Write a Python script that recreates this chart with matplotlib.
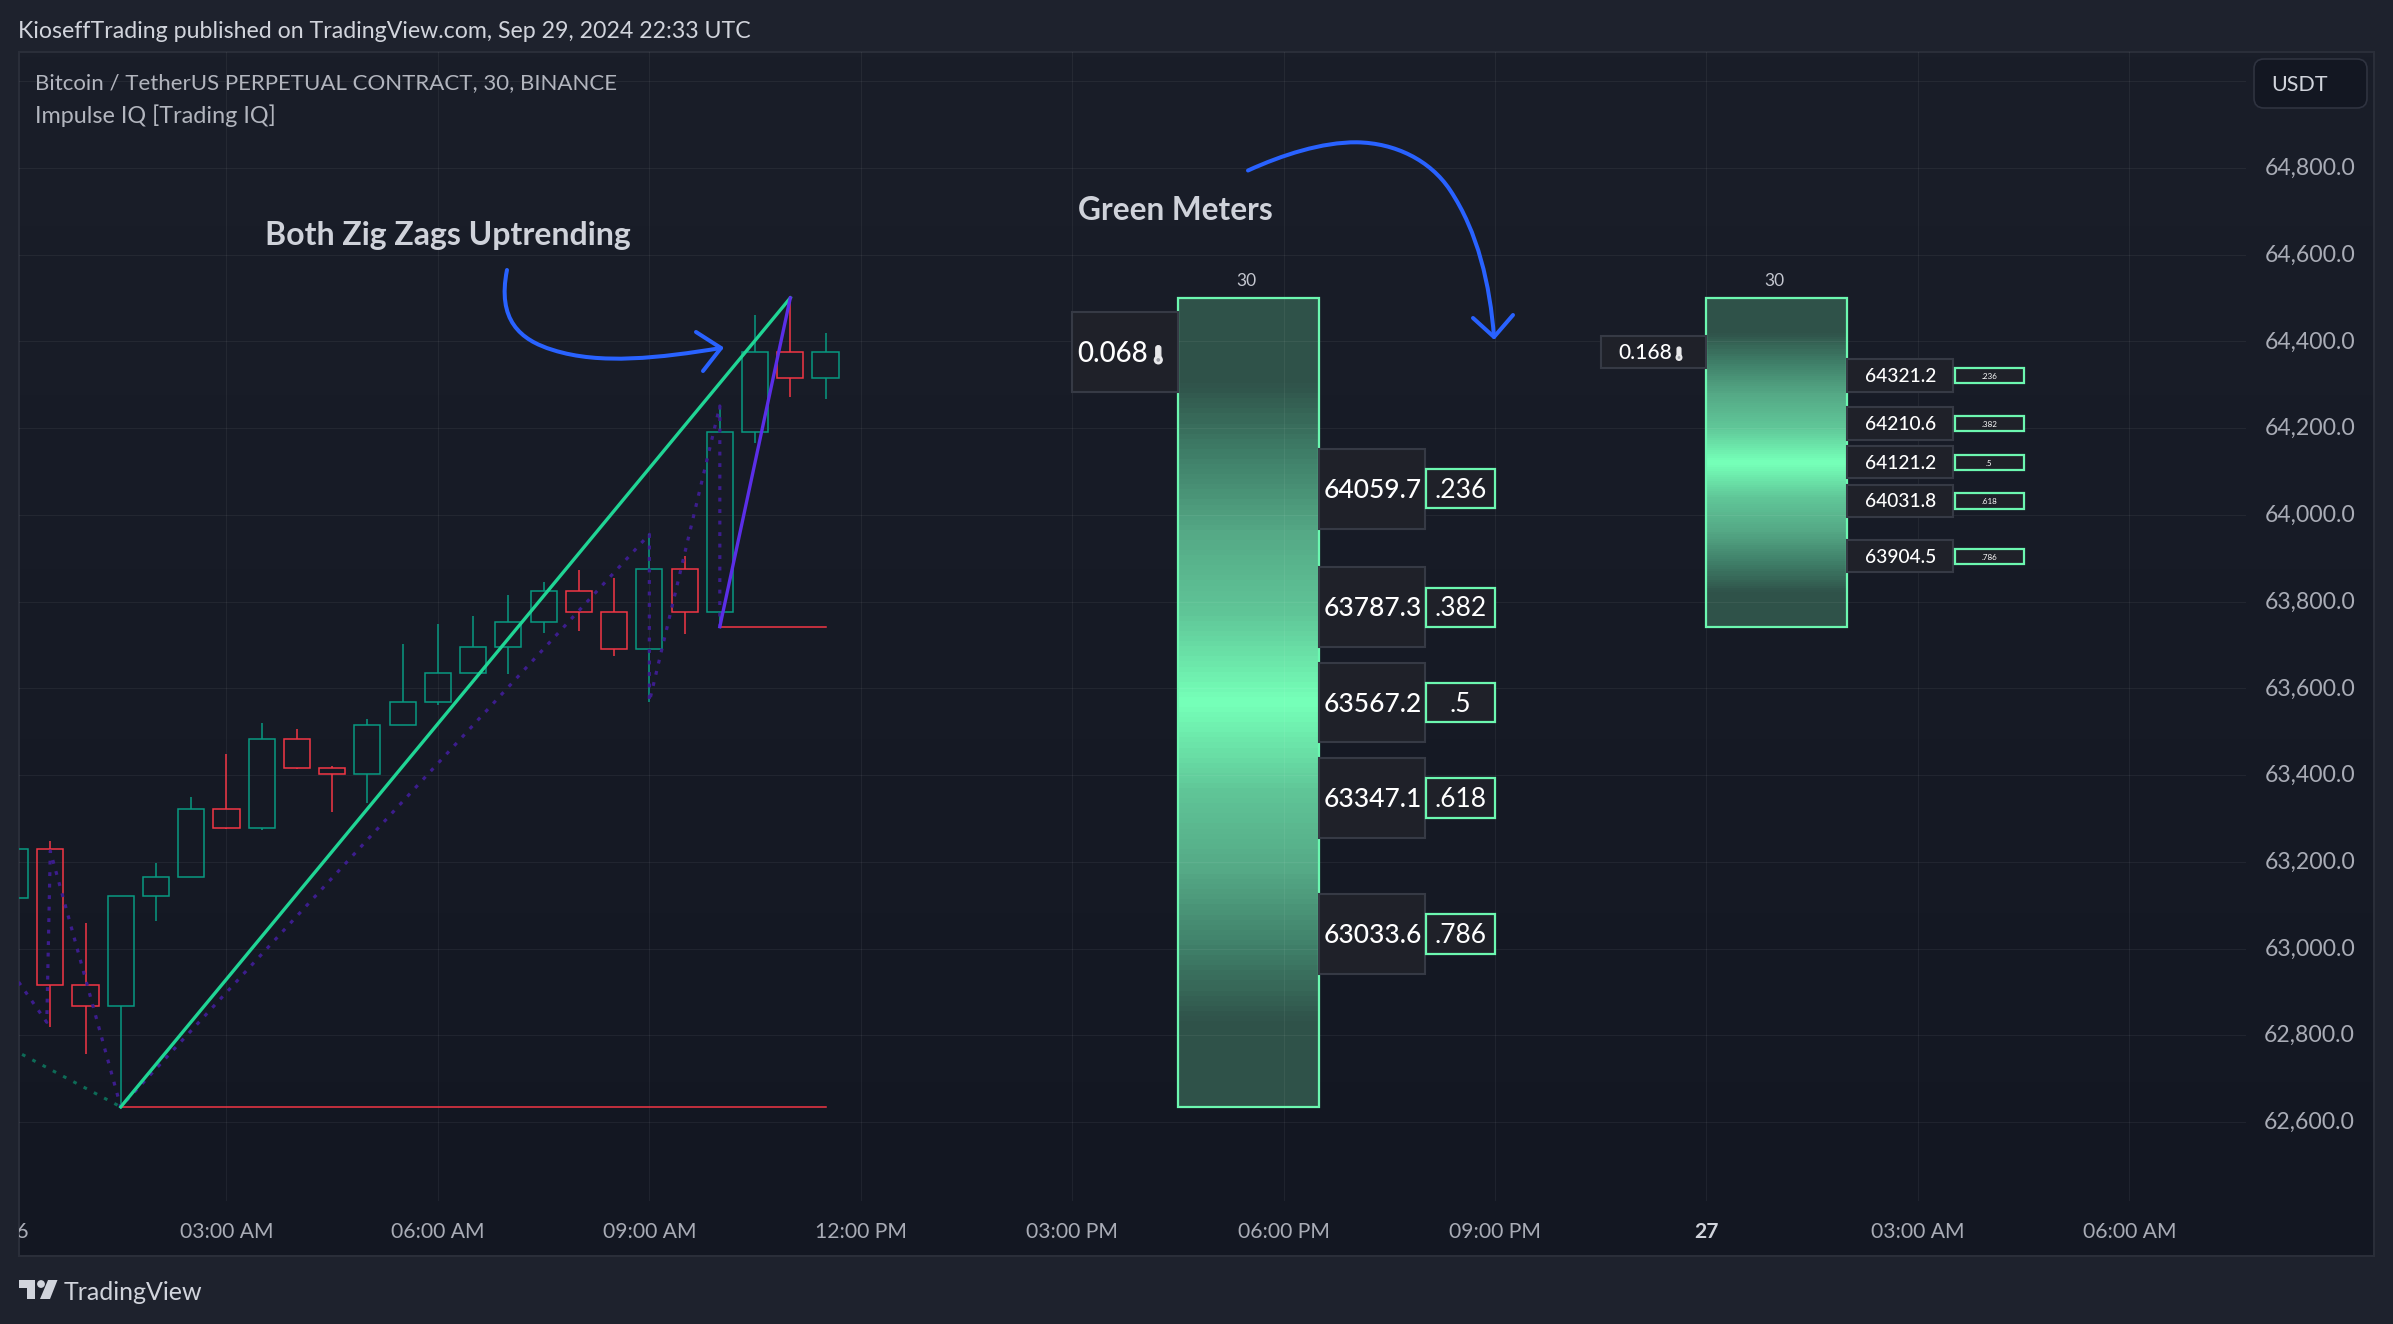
import numpy as np
import matplotlib
matplotlib.use("Agg")
import matplotlib.pyplot as plt
from matplotlib.colors import LinearSegmentedColormap
from matplotlib.patches import Rectangle, FancyBboxPatch, Circle, Polygon, PathPatch
from matplotlib.path import Path

plt.rcParams['font.family'] = ['Lato', 'DejaVu Sans']

# 30 minute bars, bar 0 is 03:00 AM
bars = [-6, -5, -4, -3, -2, -1, 0, 1, 2, 3, 4, 5, 6, 7, 8, 9, 10, 11, 12, 13, 14, 15, 16, 17]
opens = [63117, 63230, 62915, 62868, 63122, 63165, 63321, 63279, 63482, 63417, 63403, 63515,
         63568, 63635, 63695, 63752, 63824, 63775, 63690, 63875, 63775, 64190, 64375, 64315]
closes = [63230, 62915, 62868, 63122, 63165, 63321, 63279, 63482, 63417, 63403, 63515, 63568,
          63635, 63695, 63752, 63824, 63775, 63690, 63875, 63775, 64190, 64375, 64315, 64375]
highs = [63230, 63248, 63059, 63122, 63197, 63349, 63449, 63520, 63506, 63421, 63530, 63702,
         63748, 63767, 63815, 63845, 63873, 63854, 63955, 63905, 64251, 64461, 64500, 64419]
lows = [63117, 62820, 62756, 62635, 63064, 63165, 63276, 63273, 63413, 63314, 63336, 63515,
        63562, 63635, 63634, 63728, 63733, 63675, 63569, 63726, 63742, 64166, 64272, 64266]

# zig zag pivots
major_x = [-3, 16]
major_y = [62635, 64500]
minor_x = [14, 16]
minor_y = [63742, 64500]
support_prices = [62635, 63742]
support_from = [-3, 14]
support_to = 17

dots_purple_x = [-5.9, -5.1, -5, -3, 12, 12, 14, 14]
dots_purple_y = [62923, 62830, 63225, 62635, 63955, 63569, 64251, 63742]
dots_green_x = [-5.8, -3]
dots_green_y = [62756, 62635]

# meters
meter_high = 64500
big_levels = [64059.7, 63787.3, 63567.2, 63347.1, 63033.6]
big_low = 62634.5
big_heat = "0.068"
small_levels = [64321.2, 64210.6, 64121.2, 64031.8, 63904.5]
small_low = 63742.4
small_heat = "0.168"
heat_price = 64375
ratios = [".236", ".382", ".5", ".618", ".786"]

price_ticks = [62600, 62800, 63000, 63200, 63400, 63600, 63800, 64000, 64200, 64400, 64600, 64800]
grid_prices = price_ticks + [65000]
time_ticks = [0, 6, 12, 18, 24, 30, 36, 42, 48, 54]
time_labels = ["03:00 AM", "06:00 AM", "09:00 AM", "12:00 PM", "03:00 PM", "06:00 PM",
               "09:00 PM", "27", "03:00 AM", "06:00 AM"]

W, H = 2393, 1324
PANEL = "#1e222d"
TEXT = "#c3c6cf"
UP = "#089981"
DOWN = "#f23645"
MINT = "#6cf7b0"
BOX = "#1f2129"
BOX_EDGE = "#363a45"
BLUE = "#2962ff"


def px_axes(fig, left, top, right, bottom):
    return fig.add_axes([left / W, 1 - bottom / H, (right - left) / W, (bottom - top) / H])


fig = plt.figure(figsize=(W / 100, H / 100), dpi=100, facecolor=PANEL)

# chart pane background
bg = px_axes(fig, 19, 52, 2374, 1256)
bg.imshow(np.linspace(0, 1, 256).reshape(-1, 1), aspect="auto", extent=(0, 1, 0, 1),
          cmap=LinearSegmentedColormap.from_list("pane", ["#1a1e29", "#131722"]))
bg.set_xticks([])
bg.set_yticks([])
for s in bg.spines.values():
    s.set_color("#2a2e39")
    s.set_linewidth(1.5)

ax = px_axes(fig, 19, 52, 2246, 1201)
ax.patch.set_alpha(0)
for s in ax.spines.values():
    s.set_visible(False)
ax.tick_params(length=0)

# grid sits over the meters so it shows faintly through them
for p in grid_prices:
    ax.axhline(p, color="white", alpha=0.055, lw=0.85, zorder=2.5)
for t in time_ticks:
    ax.axvline(t, color="white", alpha=0.055, lw=0.85, zorder=2.5)

# candles
for b, o, c, h, l in zip(bars, opens, closes, highs, lows):
    col = UP if c >= o else DOWN
    ax.vlines(b, l, min(o, c), color=col, lw=1.1, zorder=3)
    ax.vlines(b, max(o, c), h, color=col, lw=1.1, zorder=3)
    ax.bar(b, abs(c - o), bottom=min(o, c), width=0.74, facecolor="none", edgecolor=col, lw=1.1, zorder=3)

# zig zags
ax.plot(dots_purple_x, dots_purple_y, color="#3c1d8d", lw=2.3, ls=(0, (1.2, 2.4)), zorder=4)
ax.plot(dots_green_x, dots_green_y, color="#0d6b57", lw=2.2, ls=(0, (1.2, 2.6)), zorder=4)
for p, x0 in zip(support_prices, support_from):
    ax.plot([x0, support_to], [p, p], color=DOWN, lw=1.1, zorder=4)
ax.plot(major_x, major_y, color="#20d595", lw=2.4, zorder=5)
ax.plot(minor_x, minor_y, color="#5b2ee8", lw=2.4, zorder=5)

heat = LinearSegmentedColormap.from_list("heat", [
    (0.0, "#2f5249"), (0.10, "#2f5249"), (0.19, "#3f7e68"), (0.29, "#55a986"), (0.39, "#60c698"),
    (0.495, "#75ffb8"), (0.505, "#75ffb8"),
    (0.61, "#60c698"), (0.71, "#55a986"), (0.81, "#3f7e68"), (0.90, "#2f5249"), (1.0, "#2f5249")])


def draw_meter(left, low, levels, heat_txt, big):
    right = left + 4
    ax.imshow(np.linspace(0, 1, 160).reshape(-1, 1), aspect="auto", cmap=heat,
              interpolation="nearest", extent=(left, right, low, meter_high), zorder=2)
    ax.add_patch(Rectangle((left, low), 4, meter_high - low, fill=False, edgecolor=MINT,
                           lw=1.6, zorder=6))
    ax.text(left + 1.93, meter_high + 40, "30", color=TEXT, fontsize=12.5, ha="center", va="center", zorder=7)
    box_h, ratio_h, val_size, ratio_size, heat_size = (184, 90, 19, 19, 20) if big else (74, 35, 13.8, 5.8, 15)
    nudge = -4 if big else -2
    # heat reading on the left side
    hx = left - 3
    ax.add_patch(Rectangle((hx, heat_price - box_h / 2), 3, box_h, facecolor=BOX, edgecolor=BOX_EDGE, lw=1.5, zorder=6))
    ax.text(hx + (1.16 if big else 1.25), heat_price + nudge, heat_txt, color="white", fontsize=heat_size,
            ha="center", va="center", fontweight="medium", zorder=7)
    for lev, r in zip(levels, ratios):
        ax.add_patch(Rectangle((right, lev - box_h / 2), 3, box_h, facecolor=BOX, edgecolor=BOX_EDGE, lw=1.5, zorder=6))
        ax.text(right + 1.52, lev + nudge, f"{lev:.1f}", color="white", fontsize=val_size, ha="center", va="center",
                fontweight="medium", zorder=7)
        ax.add_patch(Rectangle((right + 3.05, lev - ratio_h / 2), 1.95, ratio_h, facecolor=BOX,
                               edgecolor=MINT, lw=1.6, zorder=6))
        ax.text(right + 4.02, lev + nudge, r, color="white", fontsize=ratio_size, ha="center", va="center", zorder=7)


draw_meter(27, big_low, big_levels, big_heat, True)
draw_meter(42, small_low, small_levels, small_heat, False)

ax.set_xlim(-5.888, 57.31)
ax.set_ylim(62418, 65067)
ax.set_xticks([])
ax.set_yticks([])

# overlay in pixels for page furniture
over = fig.add_axes([0, 0, 1, 1])
over.patch.set_alpha(0)
over.axis("off")
over.set_xlim(0, W)
over.set_ylim(H, 0)

price_to_y = lambda p: 341.4 + (64400 - p) * 0.4337
bar_to_x = lambda b: 226.5 + b * 35.24

for p in price_ticks:
    over.text(2355, price_to_y(p) + 0.5, f"{p:,.1f}", color="#a9acb6", fontsize=16.6, ha="right", va="center")
for t, lab in zip(time_ticks, time_labels):
    over.text(bar_to_x(t), 1231.5, lab, color="#d1d4dc" if lab == "27" else "#a9acb6", fontsize=15.2,
              ha="center", va="center", fontweight="bold" if lab == "27" else "normal")
clipped = over.text(bar_to_x(-6) + 1, 1231.5, "26", color="#a9acb6", fontsize=15.2, ha="center", va="center")
clipped.set_clip_path(bg.patch)
clipped.set_clip_on(True)

over.text(18, 31, "KioseffTrading published on TradingView.com, Sep 29, 2024 22:33 UTC", color="#d1d4dc",
          fontsize=16.7, ha="left", va="center")
over.text(35, 83, "Bitcoin / TetherUS PERPETUAL CONTRACT, 30, BINANCE", color="#b2b5be", fontsize=16,
          ha="left", va="center")
over.text(35, 115.5, "Impulse IQ [Trading IQ]", color="#b2b5be", fontsize=16.8, ha="left", va="center")
over.text(64, 1292, "TradingView", color="#d1d4dc", fontsize=18, ha="left", va="center")
over.text(448, 235, "Both Zig Zags Uptrending", color="#cfd2da", fontsize=23, fontweight="bold", ha="center", va="center")
over.text(1175, 210, "Green Meters", color="#cfd2da", fontsize=22.8, fontweight="bold", ha="center", va="center")

# currency button
over.add_patch(FancyBboxPatch((2260, 65), 101, 37, boxstyle="round,pad=6,rounding_size=10", facecolor="#131722",
                              edgecolor="#2f3340", lw=1.2))
over.text(2271, 85, "USDT", color="#d1d4dc", fontsize=15.5, ha="left", va="center")

# logo
logo = "#d1d4dc"
over.add_patch(Polygon([(19, 1280), (35, 1280), (35, 1299), (27, 1299), (27, 1288), (19, 1288)], color=logo, lw=0))
over.add_patch(Circle((41, 1284), 3.9, color=logo, lw=0))
over.add_patch(Polygon([(48, 1280), (57.5, 1280), (50, 1299), (40, 1299)], color=logo, lw=0))


# thermometer icons next to the heat readings
def thermo(x, top, bottom, half, r):
    over.add_patch(FancyBboxPatch((x - half, top + half), half * 2, bottom - top - r - half,
                                  boxstyle=f"round,pad=0,rounding_size={half * 0.95}", facecolor="#e8e8ea",
                                  edgecolor="#e8e8ea", lw=0.8, zorder=8))
    over.add_patch(Circle((x, bottom - r), r, color="#e8e8ea", lw=0, zorder=8))
    over.add_patch(Circle((x, bottom - r), r * 0.4, color="#9a9ca3", lw=0, zorder=9))


thermo(1158.3, 343, 364.5, 2.6, 4.6)
thermo(1679, 345, 361, 2.0, 3.5)

# hand drawn arrows
curve_a = [(507, 270), (497, 320), (520, 340), (553, 350), (600, 365), (660, 358), (721, 348)]
curve_b = [(1248, 170.5), (1282, 155), (1322, 142), (1357, 142.3), (1395, 143), (1430, 160), (1450, 190),
           (1478, 232), (1490, 285), (1494, 337)]
for pts in (curve_a, curve_b):
    codes = [Path.MOVETO] + [Path.CURVE4] * (len(pts) - 1)
    over.add_patch(PathPatch(Path(pts, codes), fill=False, edgecolor=BLUE, lw=2.9, capstyle="round"))
over.plot([696, 721, 703], [332, 348, 371], color=BLUE, lw=2.9, solid_capstyle="round", solid_joinstyle="round")
over.plot([1473, 1494, 1513], [318, 337, 315], color=BLUE, lw=2.9, solid_capstyle="round", solid_joinstyle="round")

fig.savefig("out.png", dpi=100, facecolor=PANEL)
